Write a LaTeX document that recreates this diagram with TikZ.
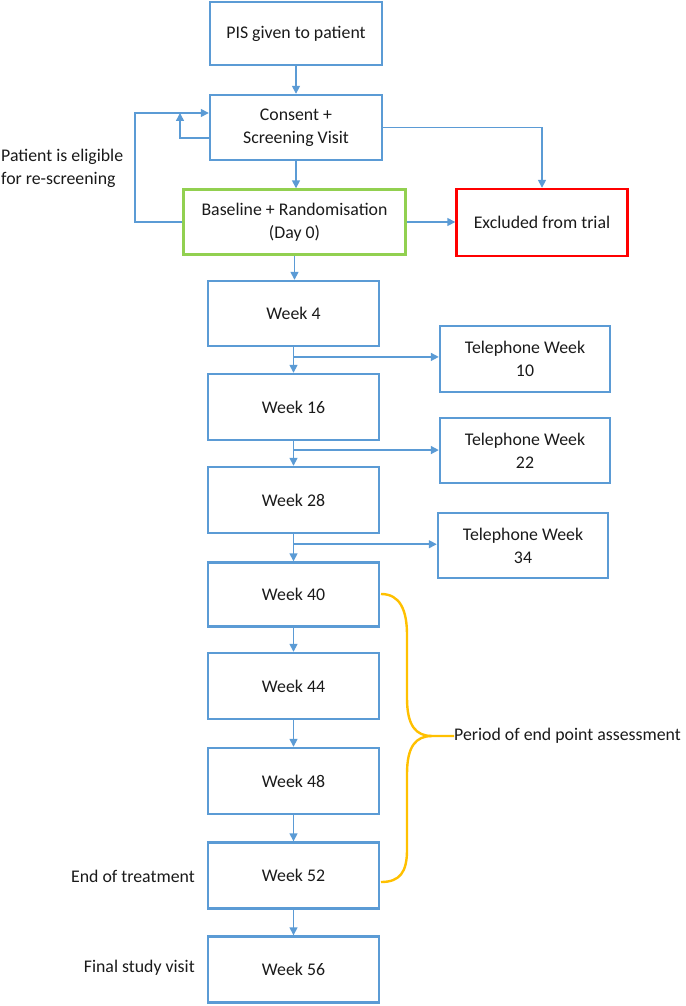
\documentclass[tikz,border=0pt]{standalone}
\usepackage{fontspec}
\setmainfont{Carlito}
\usetikzlibrary{arrows.meta,calc}
\definecolor{bblue}{HTML}{5B9BD5}
\definecolor{bgreen}{HTML}{92D050}
\definecolor{bred}{HTML}{FF0000}
\definecolor{bgold}{HTML}{FFC000}
\definecolor{txt}{HTML}{1A1A1A}
\begin{document}
\begin{tikzpicture}[x=1pt,y=-1pt,
  font=\fontsize{17.8}{23}\selectfont, text=txt,
  box/.style={draw=bblue,line width=2.4pt,align=center,inner sep=0pt,minimum width=171pt,minimum height=65pt},
  arr/.style={draw=bblue,line width=1.5pt,-{Triangle[length=8pt,width=8pt]}},
  brace/.style={draw=bgold,line width=2.4pt}]
\useasboundingbox (0,0) rectangle (685,1006);
% boxes
\node[box,minimum width=172pt,minimum height=63pt] (pis) at (296,33.5) {PIS given to patient};
\node[box,minimum width=172pt] (cons) at (296,127.5) {Consent +\\Screening Visit};
\node[box,draw=bgreen,minimum width=222pt] (base) at (294.5,222) {Baseline + Randomisation\\(Day 0)};
\node[box,draw=bred,minimum height=67pt] (excl) at (542,222.5) {Excluded from trial};
\node[box] (w4) at (293.5,313.5) {Week 4};
\node[box,minimum width=170pt,minimum height=66pt] (t10) at (525,359) {Telephone Week\\10};
\node[box,minimum height=66pt] (w16) at (293.5,407) {Week 16};
\node[box,minimum width=170pt] (t22) at (525,450.5) {Telephone Week\\22};
\node[box,minimum height=66pt] (w28) at (293.5,500) {Week 28};
\node[box,minimum width=170pt] (t34) at (523,545.5) {Telephone Week\\34};
\node[box,minimum height=64pt] (w40) at (293.5,594.5) {Week 40};
\node[box,minimum height=66pt] (w44) at (293.5,686) {Week 44};
\node[box,minimum height=66pt] (w48) at (293.5,781) {Week 48};
\node[box,minimum height=66pt] (w52) at (293.5,875.5) {Week 52};
\node[box,minimum height=66pt] (w56) at (293.5,969.5) {Week 56};
% side labels
\node[anchor=west,align=left,inner sep=0pt] (elig) at (1,168.5) {Patient is eligible\\for re-screening};
\node[anchor=east,inner sep=0pt] (eot) at (195,876) {End of treatment};
\node[anchor=east,inner sep=0pt] (fsv) at (195,968) {Final study visit};
\node[anchor=west,inner sep=0pt] (per) at (454,736) {Period of end point assessment};
% connectors
\draw[arr] (pis) -- (cons);
\draw[arr] (cons.south) -- (cons.south |- base.north);
\draw[arr] (base.south) -- (base.south |- w4.north);
\draw[arr] (cons.east) -| (excl.north);
\draw[arr] (base.east) -- (base.east -| excl.west);
\coordinate (sl) at (180,113);
\draw[arr] ([yshift=-10.5pt]cons.west) -| (sl);
\coordinate (bl) at (135,113);
\draw[arr] (base.west) -| (bl) -- (bl -| cons.west);
\draw[arr] (w4) -- (w16);
\draw[arr] (w16) -- (w28);
\draw[arr] (w28) -- (w40);
\draw[arr] (w40) -- (w44);
\draw[arr] (w44) -- (w48);
\draw[arr] (w48) -- (w52);
\draw[arr] (w52) -- (w56);
\coordinate (b1) at ($(w4.south)!0.38!(w16.north)$);
\coordinate (b2) at ($(w16.south)!0.36!(w28.north)$);
\coordinate (b3) at ($(w28.south)!0.37!(w40.north)$);
\draw[arr] (b1) -- (b1 -| t10.west);
\draw[arr] (b2) -- (b2 -| t22.west);
\draw[arr] (b3) -- (b3 -| t34.west);
% brace
\coordinate (bt) at (381,594);
\coordinate (bb) at (381,882);
\coordinate (tip) at (432,736);
\draw[brace] (bt) .. controls (400,594) and (407,610) .. (407,635) -- (407,698)
  .. controls (407,726) and (416,736) .. (tip) -- (per.west);
\draw[brace] (tip) .. controls (416,736) and (407,746) .. (407,774) -- (407,850)
  .. controls (407,872) and (400,882) .. (bb);
\end{tikzpicture}
\end{document}
